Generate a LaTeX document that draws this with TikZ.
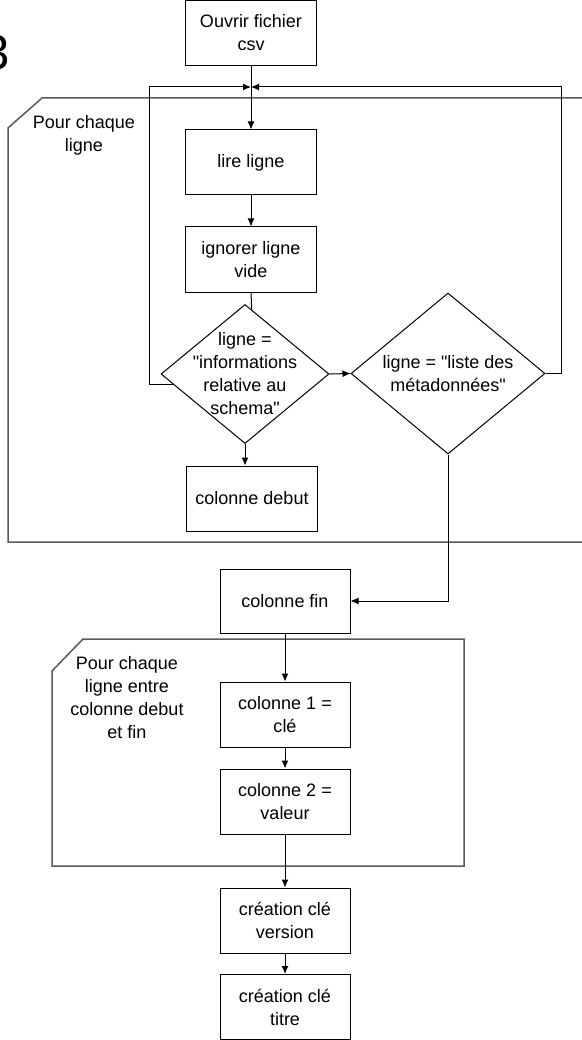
\documentclass[tikz,border=0pt]{standalone}
\usepackage{fontspec}
\setmainfont{Liberation Sans}[Ligatures=TeXOff]
\usetikzlibrary{shapes.geometric,arrows.meta}
\begin{document}
\begin{tikzpicture}[>={Latex[length=8pt,width=7pt]},x=1pt,y=-1pt,
  every node/.style={font=\fontsize{18}{23}\selectfont,align=center},
  box/.style={draw,line width=1pt,minimum width=131pt,minimum height=65pt,inner sep=2pt},
  decision/.style={draw,diamond,line width=1pt,inner sep=0pt},
  frame/.style={draw=black!65,line width=1.5pt},
  link/.style={line width=1pt}]
\useasboundingbox (0,0) rectangle (581,1040);
\node (num) at (10,70)[anchor=base east,inner sep=0pt,font=\fontsize{49}{49}\selectfont]{3};
\draw[frame](42,98)--(620,98)--(620,542)--(8,542)--(8,128)--cycle;
\draw[frame](83,639)--(464,639)--(464,866)--(52,866)--(52,671)--cycle;
\node (grp1) at (84,135){Pour chaque\\ligne};
\node (grp2) at (127,698){Pour chaque\\ligne entre\\colonne debut\\et fin};
\node (ouvrir) at (251,33)[box]{Ouvrir fichier\\csv};
\node (lire) at (251,162.5)[box]{lire ligne};
\node (ign) at (251,259.5)[box]{ignorer ligne\\vide};
\node (d1) at (245,374)[decision,minimum width=168pt,minimum height=139pt]{};
\node (d1txt) at (d1){ligne =\\"informations\\relative au\\schema"};
\node (d2) at (448,373.5)[decision,minimum width=194pt,minimum height=161pt]{};
\node (d2txt) at (d2){ligne = "liste des\\métadonnées"};
\node (debut) at (252,498.5)[box]{colonne debut};
\node (fin) at (285,601)[box,minimum width=130pt,minimum height=64pt]{colonne fin};
\node (cle) at (285,714.5)[box,minimum width=130pt]{colonne 1 =\\clé};
\node (val) at (285,801.5)[box,minimum width=130pt]{colonne 2 =\\valeur};
\node (version) at (285,920.5)[box,minimum width=130pt]{création clé\\version};
\node (titre) at (285,1007)[box,minimum width=130pt]{création clé\\titre};
\coordinate (join) at (251,87);
\draw[link,->](ouvrir)--(lire);
\draw[link,->](d1.188)--++(-23,0)|-(join);
\draw[link,->](d2.east)--++(16,0)|-(join);
\draw[link,->](lire)--(ign);
\draw[link](ign.south)--(d1.84);
\draw[link,->](d1.east)--(d2.west);
\draw[link,->](d1.south)--(d1.south|-debut.north);
\draw[link,->](d2.south)|-(fin.east);
\draw[link,->](fin)--(cle);
\draw[link,->](cle)--(val);
\draw[link,->](val)--(version);
\draw[link,->](version)--(titre);
\end{tikzpicture}
\end{document}
